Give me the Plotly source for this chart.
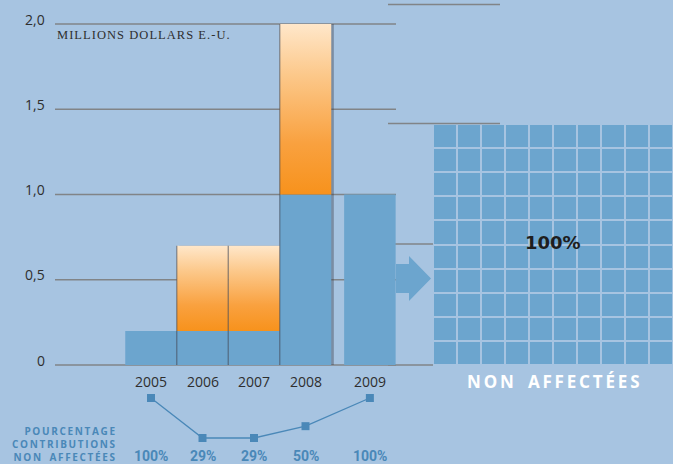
import plotly.graph_objects as go

# ---------------- data ----------------
years = ["2005", "2006", "2007", "2008", "2009"]
unaffected_musd = [0.2, 0.2, 0.2, 1.0, 1.0]      # blue part (millions USD)
affected_musd = [0.0, 0.5, 0.5, 1.0, 0.0]        # orange part (millions USD)
pct_unaffected = [100, 29, 29, 50, 100]          # % non affectées
y_tick_vals = [0, 0.5, 1.0, 1.5, 2.0]
y_tick_text = ["0", "0,5", "1,0", "1,5", "2,0"]
caption_lines = ["POURCENTAGE", "CONTRIBUTIONS", "NON AFFECTÉES"]
panel_share = 100                                 # 10 x 10 grid = 100 %
panel_side = 10

# ---------------- layout constants ----------------
W, H = 673, 464
BG = "#a7c4e1"
BLUE = "#6ca5ce"
GRID = "#818487"
LBLUE = "#4a88b8"
slot = [0, 1, 2, 3, 4.25]                         # bar slots on the x axis

PX_UNIT = 51.5
X_ORIGIN = 151
Y0_PX = 365
PX_PER_Y = 170.5
P100_PX = 398
PX_PER_PCT = 40 / 71


def px(x):
    return x / W


def py(y):
    return 1 - y / H


xrange_ = [-X_ORIGIN / PX_UNIT, (W - X_ORIGIN) / PX_UNIT]
yrange_ = [(Y0_PX - H) / PX_PER_Y, Y0_PX / PX_PER_Y]
y2range_ = [100 - (H - P100_PX) / PX_PER_PCT, 100 + P100_PX / PX_PER_PCT]

fig = go.Figure()

totals = [u + a for u, a in zip(unaffected_musd, affected_musd)]

# shadow behind bars
fig.add_trace(go.Bar(
    x=[s + 0.05 for s in slot[:4]], y=totals[:4], width=1.0,
    marker=dict(color="rgba(55,60,70,0.40)", line=dict(width=0)),
    hoverinfo="skip", showlegend=False))

# blue bars (unaffected)
fig.add_trace(go.Bar(
    x=slot, y=unaffected_musd, width=1.0,
    marker=dict(color=BLUE, line=dict(width=0)),
    showlegend=False, name="non affectées"))

# orange gradient parts (affected)
for s, u, a in zip(slot, unaffected_musd, affected_musd):
    if a <= 0:
        continue
    fig.add_trace(go.Scatter(
        x=[s - 0.5, s + 0.5, s + 0.5, s - 0.5, s - 0.5],
        y=[u, u, u + a, u + a, u],
        mode="lines", line=dict(width=0),
        fill="toself",
        fillgradient=dict(type="vertical",
                          colorscale=[[0, "#f7921c"], [0.3, "#f9a13f"],
                                      [0.7, "#fcc88a"], [1, "#ffe7ca"]]),
        hoverinfo="skip", showlegend=False))

# divider lines between adjacent bars (shadow edges)
for i, (s, t) in enumerate(zip(slot, totals)):
    if i == 0 or slot[i] - slot[i - 1] > 1.01:
        continue
    fig.add_shape(type="line", xref="x", yref="y",
                  x0=s - 0.5, x1=s - 0.5, y0=0, y1=t,
                  line=dict(color="rgba(60,65,75,0.45)", width=1.5), layer="above")

# 10 x 10 grid panel (100 %)
fig.add_trace(go.Heatmap(
    z=[[1] * panel_side for _ in range(panel_side)],
    colorscale=[[0, BLUE], [1, BLUE]], showscale=False,
    xgap=2, ygap=2, xaxis="x2", yaxis="y3", hoverinfo="skip"))

# line of percentages
fig.add_trace(go.Scatter(
    x=slot, y=pct_unaffected, xaxis="x", yaxis="y2",
    mode="lines+markers",
    line=dict(color=LBLUE, width=1.3),
    marker=dict(symbol="square", size=8, color=LBLUE),
    showlegend=False))

# grid lines of the bar chart
for v in y_tick_vals:
    fig.add_shape(type="line", xref="paper", yref="y",
                  x0=px(55), x1=px(396), y0=v, y1=v,
                  line=dict(color=GRID, width=1.5), layer="below")

# right-hand scale lines
for ypix, xend in [(4.5, 500), (123.5, 500), (244, 433), (365, 433)]:
    fig.add_shape(type="line", xref="paper", yref="paper",
                  x0=px(388), x1=px(xend), y0=py(ypix), y1=py(ypix),
                  line=dict(color=GRID, width=1.5), layer="below")

# arrow
arrow = (f"M {px(396)} {py(264)} L {px(409)} {py(264)} L {px(409)} {py(256)} "
         f"L {px(431)} {py(278.5)} L {px(409)} {py(301)} L {px(409)} {py(293)} "
         f"L {px(396)} {py(293)} Z")
fig.add_shape(type="path", xref="paper", yref="paper", path=arrow,
              fillcolor=BLUE, line=dict(width=0))


def spaced(t, sep="\u2009", word="\u2002"):
    return sep.join(t.replace(" ", word))


ann = []
# y tick labels
for v, t in zip(y_tick_vals, y_tick_text):
    ann.append(dict(x=px(47), y=v, xref="paper", yref="y", text=t,
                    xanchor="right", yanchor="middle", yshift=5, showarrow=False,
                    font=dict(family="Open Sans", size=14, color="#2e2e2e")))
# year labels
for s, yr in zip(slot, years):
    ann.append(dict(x=s, y=py(381), xref="x", yref="paper", text=yr,
                    xanchor="center", yanchor="middle", showarrow=False,
                    font=dict(family="Open Sans", size=14, color="#2e2e2e")))
# percentage labels
for s, p in zip(slot, pct_unaffected):
    ann.append(dict(x=s, y=py(456), xref="x", yref="paper", text=f"{p}%",
                    xanchor="center", yanchor="middle", showarrow=False,
                    font=dict(family="Roboto", size=14, color=LBLUE, weight=700)))
# left caption of line chart
ann.append(dict(x=px(118), y=py(444), xref="paper", yref="paper",
                text="<br>".join(spaced(t) for t in caption_lines),
                xanchor="right", yanchor="middle", align="right", showarrow=False,
                font=dict(family="Open Sans", size=10, color=LBLUE, weight=700)))
# unit label
ann.append(dict(x=px(55), y=py(35), xref="paper", yref="paper",
                text=spaced("MILLIONS DOLLARS E.-U.", "\u200a", " "),
                xanchor="left", yanchor="middle",
                showarrow=False,
                font=dict(family="Liberation Serif", size=12.5, color="#2e2e2e")))
# panel labels
ann.append(dict(x=px(553), y=py(242), xref="paper", yref="paper",
                text=f"{panel_share}%", xanchor="center", yanchor="middle",
                showarrow=False,
                font=dict(family="DejaVu Sans", size=18, color="#1e1e1e", weight=700)))
ann.append(dict(x=px(553), y=py(381), xref="paper", yref="paper",
                text=spaced("NON AFFECTÉES"),
                xanchor="center", yanchor="middle", showarrow=False,
                font=dict(family="Noto Sans", size=17, color="white", weight=700)))

fig.update_layout(
    width=W, height=H,
    margin=dict(l=0, r=0, t=0, b=0),
    paper_bgcolor=BG, plot_bgcolor="rgba(0,0,0,0)",
    barmode="overlay", showlegend=False,
    xaxis=dict(range=xrange_, visible=False, domain=[0, 1], fixedrange=True),
    yaxis=dict(range=yrange_, visible=False, domain=[0, 1], fixedrange=True),
    yaxis2=dict(range=y2range_, visible=False, overlaying="y", fixedrange=True),
    xaxis2=dict(range=[-0.5, panel_side - 0.5], visible=False,
                domain=[px(433), 1], anchor="y3"),
    yaxis3=dict(range=[-0.5, panel_side - 0.5], visible=False,
                domain=[py(365), py(124)], anchor="x2"),
    annotations=ann,
)

fig.write_html("out.html", config={"displayModeBar": False},
               post_script="document.body.style.margin='0';"
                           "document.body.style.background='" + BG + "';")
